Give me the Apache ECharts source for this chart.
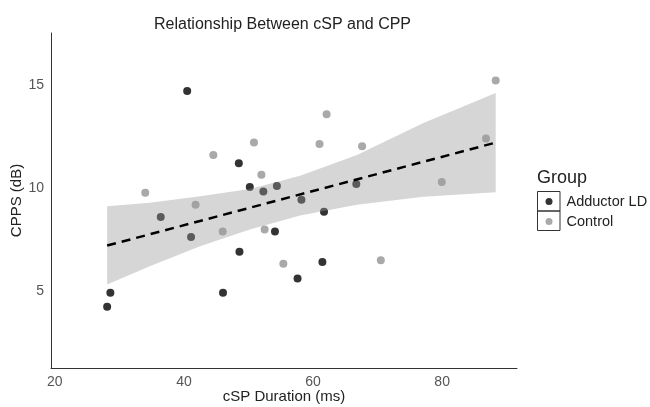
<!DOCTYPE html>
<html>
<head>
<meta charset="utf-8">
<script src="https://cdn.jsdelivr.net/npm/echarts@6/dist/echarts.min.js"></script>
<style>
html, body { margin: 0; padding: 0; background: #fff; }
#chart { width: 650px; height: 407px; }
</style>
</head>
<body>
<div id="chart"></div>
<script>
// points: [cSP duration, CPPS]
var adductor = [
    [40.5, 14.7], [48.5, 11.2], [50.2, 10.05], [52.3, 9.83], [54.4, 10.1],
    [36.4, 8.6], [41.1, 7.64], [48.6, 6.92], [58.2, 9.44], [61.7, 8.85],
    [54.1, 7.9], [66.7, 10.2], [61.45, 6.43], [57.6, 5.63], [28.6, 4.94],
    [28.1, 4.26], [46.05, 4.94]
];
var control = [
    [88.3, 15.2], [62.1, 13.57], [50.85, 12.2], [44.55, 11.6], [61.0, 12.13],
    [67.6, 12.02], [52.0, 10.65], [34.0, 9.77], [41.8, 9.2], [46.0, 7.9],
    [52.5, 8.0], [55.4, 6.34], [70.5, 6.51], [79.95, 10.3], [86.8, 12.4]
];

// fitted line and its confidence band
var fitX = [28.1, 88.3];
var fitY = [7.22, 12.2];
var bandX = [28.1, 34.7, 42.5, 50.2, 58.0, 66.8, 77.1, 88.3];
var bandLow = [5.34, 6.22, 7.19, 8.0, 8.67, 9.2, 9.58, 9.8];
var bandHigh = [9.12, 9.29, 9.6, 9.96, 10.6, 11.6, 13.15, 14.6];

var xTicks = [20, 40, 60, 80];
var yTicks = [5, 10, 15];

var font = 'Liberation Sans, Arial, sans-serif';

var myChart = echarts.init(document.getElementById('chart'));

// whole band drawn as one polygon, on the first item
function renderBand(params, api) {
    if (params.dataIndex !== 0) return;
    var pts = [];
    for (var i = 0; i < bandX.length; i++) pts.push(api.coord([bandX[i], bandHigh[i]]));
    for (var j = bandX.length - 1; j >= 0; j--) pts.push(api.coord([bandX[j], bandLow[j]]));
    return {
        type: 'polygon',
        shape: { points: pts, smooth: 0 },
        style: { fill: 'rgba(153,153,153,0.4)' },
        silent: true
    };
}

var option = {
    animation: false,
    textStyle: { fontFamily: font },
    title: [
        {
            text: 'Relationship Between cSP and CPP',
            left: 154, top: 17, padding: 0,
            textStyle: { fontSize: 16, fontWeight: 'normal', color: '#222', fontFamily: font }
        },
        {
            text: 'Group',
            left: 537, top: 169, padding: 0,
            textStyle: { fontSize: 18, fontWeight: 'normal', color: '#222', fontFamily: font }
        }
    ],
    legend: {
        data: ['Adductor LD', 'Control'],
        orient: 'vertical',
        left: 545.5, top: 191.5,
        padding: 0,
        itemWidth: 7, itemHeight: 7, itemGap: 0,
        icon: 'circle',
        textStyle: { fontSize: 14.5, color: '#222', lineHeight: 20, padding: [0, 0, 0, 9], fontFamily: font }
    },
    graphic: [
        { type: 'rect', shape: { x: 537.5, y: 191.5, width: 22.5, height: 19.5 }, style: { fill: 'none', stroke: '#333', lineWidth: 1 } },
        { type: 'rect', shape: { x: 537.5, y: 211, width: 22.5, height: 19.5 }, style: { fill: 'none', stroke: '#333', lineWidth: 1 } }
    ],
    grid: { left: 51, right: 133, top: 33, bottom: 39, outerBoundsMode: 'none' },
    xAxis: {
        type: 'value',
        min: 19.4, max: 91.6,
        splitNumber: 3,
        name: 'cSP Duration (ms)',
        nameLocation: 'middle',
        nameGap: 21,
        nameMoveOverlap: false,
        nameTextStyle: { fontSize: 15, color: '#222' },
        axisLine: { lineStyle: { color: '#333', width: 1 } },
        axisTick: { show: false },
        splitLine: { show: false },
        axisLabel: {
            color: '#555', fontSize: 14, margin: 7,
            formatter: function (v) { return xTicks.indexOf(v) >= 0 ? String(v) : ''; }
        }
    },
    yAxis: {
        type: 'value',
        min: 1.3, max: 17.5,
        splitNumber: 3,
        name: 'CPPS (dB)',
        nameLocation: 'middle',
        nameGap: 26.5,
        nameMoveOverlap: false,
        nameTextStyle: { fontSize: 15, color: '#222' },
        axisLine: { show: true, lineStyle: { color: '#333', width: 1 } },
        axisTick: { show: false },
        splitLine: { show: false },
        axisLabel: {
            color: '#555', fontSize: 14, margin: 7,
            formatter: function (v) { return yTicks.indexOf(v) >= 0 ? String(v) : ''; }
        }
    },
    series: [
        {
            name: 'Adductor LD',
            type: 'scatter',
            z: 1,
            symbolSize: 8,
            itemStyle: { color: '#333333', opacity: 1 },
            data: adductor
        },
        {
            name: 'Control',
            type: 'scatter',
            z: 1,
            symbolSize: 8,
            itemStyle: { color: '#a9a9a9', opacity: 1 },
            data: control
        },
        {
            name: 'band',
            type: 'custom',
            z: 2,
            silent: true,
            renderItem: renderBand,
            encode: { x: 0, y: [1, 2] },
            data: bandX.map(function (x, i) { return [x, bandLow[i], bandHigh[i]]; })
        },
        {
            name: 'fit',
            type: 'line',
            z: 3,
            symbol: 'none',
            silent: true,
            lineStyle: { color: '#000', width: 2.5, type: [9, 6] },
            data: fitX.map(function (x, i) { return [x, fitY[i]]; })
        }
    ]
};

myChart.setOption(option);
</script>
</body>
</html>
